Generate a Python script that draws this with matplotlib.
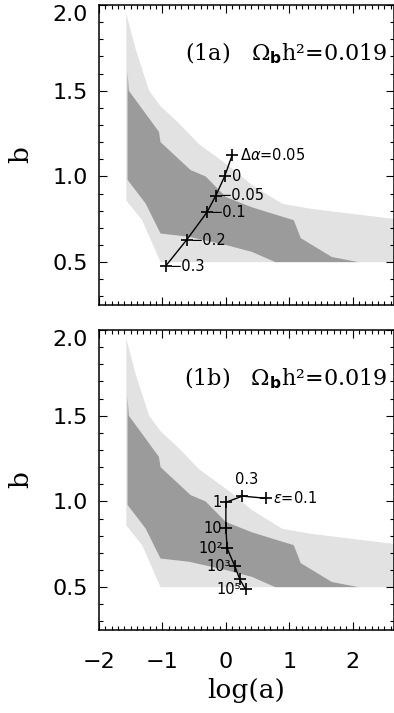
import numpy as np
import matplotlib.pyplot as plt
from matplotlib.ticker import MultipleLocator

plt.rcParams['font.family'] = 'DejaVu Sans'
plt.rcParams['mathtext.fontset'] = 'dejavusans'

# outer (light) allowed region
light_top_x = [-1.57, -1.42, -1.21, -1.03, -0.74, -0.43, 0.05, 0.41, 0.89, 1.36, 2.70]
light_top_y = [1.95, 1.74, 1.50, 1.41, 1.31, 1.19, 1.06, 0.95, 0.84, 0.81, 0.75]
light_bot_x = [-1.57, -1.32, -1.03, 2.70]
light_bot_y = [0.86, 0.745, 0.50, 0.50]

# inner (dark) allowed region
dark_top_x = [-1.55, -1.53, -1.055, -1.03, -0.556, -0.32, 0.0, 0.41, 0.89, 1.07, 1.18, 1.67, 2.09]
dark_top_y = [1.61, 1.50, 1.26, 1.20, 1.037, 1.0, 0.88, 0.82, 0.765, 0.745, 0.64, 0.53, 0.50]
dark_bot_x = [-1.55, -1.265, -1.03, -0.58, 0.0, 0.41, 0.78, 2.09]
dark_bot_y = [0.98, 0.842, 0.667, 0.648, 0.60, 0.56, 0.50, 0.50]

# track for panel (1a)
alpha_x = [0.10, -0.02, -0.16, -0.30, -0.62, -0.95]
alpha_y = [1.125, 1.0, 0.887, 0.79, 0.629, 0.477]
alpha_labels = [r'$\Delta\alpha$=0.05', '0', '\u22120.05', '\u22120.1', '\u22120.2', '\u22120.3']

# track for panel (1b)
eps_x = [0.64, 0.26, 0.0, 0.0, 0.02, 0.14, 0.22, 0.31]
eps_y = [1.018, 1.031, 0.995, 0.843, 0.726, 0.623, 0.545, 0.487]
eps_labels = [r'$\epsilon$=0.1', '0.3', '1', '10', '10\u00b2', '10\u00b3', '', '10\u2075']

light = '#e2e2e2'
dark = '#9b9b9b'


def setup(ax, tag, bottom_labels):
    ax.fill(np.concatenate([light_top_x, light_bot_x[::-1]]),
            np.concatenate([light_top_y, light_bot_y[::-1]]),
            color=light, lw=0)
    ax.fill(np.concatenate([dark_top_x, dark_bot_x[::-1]]),
            np.concatenate([dark_top_y, dark_bot_y[::-1]]),
            color=dark, lw=0)
    ax.set_xlim(-2, 2.65)
    ax.set_ylim(0.25, 2.0)
    ax.xaxis.set_major_locator(MultipleLocator(1))
    ax.xaxis.set_minor_locator(MultipleLocator(0.1))
    ax.yaxis.set_major_locator(MultipleLocator(0.5))
    ax.yaxis.set_minor_locator(MultipleLocator(0.1))
    ax.yaxis.set_major_formatter('{x:.1f}')
    ax.tick_params(which='both', direction='in', top=True, right=True,
                   labelsize=16, width=0.8)
    ax.tick_params(which='major', length=6)
    ax.tick_params(which='minor', length=3)
    ax.tick_params(axis='y', pad=8)
    ax.tick_params(axis='x', pad=16, labelbottom=bottom_labels)
    for s in ax.spines.values():
        s.set_linewidth(1.1)
    ax.set_ylabel('b', family='DejaVu Serif', fontsize=19, labelpad=14)
    ax.text(2.54, 1.72, tag + '   \u03a9$_\\mathbf{b}$h\u00b2=0.019',
            family='DejaVu Serif', fontsize=16, ha='right', va='center')


fig = plt.figure(figsize=(3.94, 7.13), dpi=100)
ax1 = fig.add_axes([99 / 394, 1 - 305 / 713, 295 / 394, 300 / 713])
ax2 = fig.add_axes([99 / 394, 1 - 630 / 713, 295 / 394, 300 / 713])

setup(ax1, '(1a)', False)
setup(ax2, '(1b)', True)
ax2.set_xlabel('log(a)', family='DejaVu Serif', fontsize=19, labelpad=4)

ax1.plot(alpha_x, alpha_y, color='black', lw=1.0, marker='+', ms=9, mew=1.2)
for x, y, s in zip(alpha_x, alpha_y, alpha_labels):
    dx = 2.5 if s.startswith('\u2212') else 5.5
    ax1.annotate(s, (x, y), xytext=(dx, 0), textcoords='offset points',
                 ha='left', va='center', fontsize=10.5)

ax2.plot(eps_x, eps_y, color='black', lw=1.0, marker='+', ms=9, mew=1.2)
for i, (x, y, s) in enumerate(zip(eps_x, eps_y, eps_labels)):
    if i == 0:
        off, ha = (5, 0), 'left'
    elif i == 1:
        off, ha = (3, 12), 'center'
    else:
        off, ha = (-3, 0), 'right'
    ax2.annotate(s, (x, y), xytext=off, textcoords='offset points',
                 ha=ha, va='center', fontsize=10.5)

fig.canvas.draw()
for ax in (ax1, ax2):
    for lab in ax.get_yticklabels():
        if lab.get_text() == '2.0':
            lab.set_va('top')

fig.savefig('out.png', dpi=100)
